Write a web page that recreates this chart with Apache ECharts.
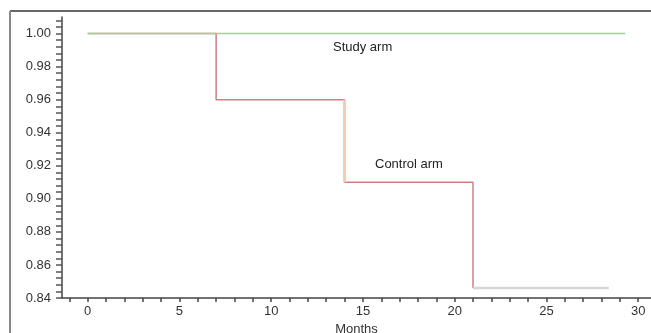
<!DOCTYPE html>
<html>
<head>
<meta charset="utf-8">
<script src="https://cdn.jsdelivr.net/npm/echarts@6/dist/echarts.min.js"></script>
<style>
  html, body {margin: 0; padding: 0; background: #fff;}
  #chart {width: 651px; height: 333px;}
</style>
</head>
<body>
<div id="chart"></div>
<script>
// Kaplan-Meier style curves
const studyTimes = [0, 29.3];
const studySurv = [1.0, 1.0];

const controlTimes = [0, 7, 14, 21];
const controlSurv = [1.0, 0.96, 0.91, 0.846];
const controlEnd = 28.4;

const xLabels = [0, 5, 10, 15, 20, 25, 30];
const yLabels = [0.84, 0.86, 0.88, 0.90, 0.92, 0.94, 0.96, 0.98, 1.00];

const xTicks = [];
for (let i = -1; i <= 30; i++) xTicks.push(i);
const yTicks = [];
for (let i = 0; i <= 42; i++) yTicks.push(+(0.84 + i * 0.004).toFixed(3));

const chart = echarts.init(document.getElementById('chart'));

const studyData = studyTimes.map((t, i) => [t, studySurv[i]]);
const controlData = controlTimes.map((t, i) => [t, controlSurv[i]]);
const last = controlSurv.length - 1;
const tailData = [[controlTimes[last], controlSurv[last]], [controlEnd, controlSurv[last]]];
const dropData = [[controlTimes[2], controlSurv[1]], [controlTimes[2], controlSurv[2]]];

const font = 'Liberation Sans, Arial, sans-serif';

chart.setOption({
  animation: false,
  grid: {left: 62, right: 0, top: 17, bottom: 35, containLabel: false, outerBoundsMode: 'none'},
  xAxis: {
    type: 'value',
    min: -1.4,
    max: 30.7,
    name: 'Months',
    nameLocation: 'middle',
    nameGap: 21,
    nameTextStyle: {color: '#333', fontSize: 13, fontFamily: font},
    axisLine: {show: true, onZero: false, lineStyle: {color: '#444', width: 1.5}},
    axisTick: {show: true, inside: false, length: 4, customValues: xTicks, lineStyle: {color: '#444', width: 1.5}},
    axisLabel: {customValues: xLabels, color: '#333', fontSize: 13, fontFamily: font, margin: 7},
    splitLine: {show: false}
  },
  yAxis: {
    type: 'value',
    min: 0.84,
    max: 1.01,
    axisLine: {show: true, onZero: false, lineStyle: {color: '#444', width: 1.5}},
    axisTick: {show: true, length: 6, customValues: yTicks, lineStyle: {color: '#555', width: 1.5}},
    axisLabel: {
      customValues: yLabels,
      color: '#333', fontSize: 13, fontFamily: font, margin: 11,
      formatter: v => v.toFixed(2)
    },
    splitLine: {show: false}
  },
  series: [
    {
      name: 'Control arm', type: 'line', step: 'end', data: controlData,
      symbol: 'none', lineStyle: {color: '#d07f7f', width: 1.5}, z: 2
    },
    {
      name: 'Control drop', type: 'line', data: dropData,
      symbol: 'none', lineStyle: {color: '#f2cdb4', width: 3}, z: 3
    },
    {
      name: 'Control tail', type: 'line', data: tailData,
      symbol: 'none', lineStyle: {color: '#d6d6d6', width: 2.5}, z: 2
    },
    {
      name: 'Study arm', type: 'line', data: studyData,
      symbol: 'none', lineStyle: {color: '#9ad39a', width: 1.5}, z: 4
    }
  ],
  graphic: [
    {type: 'line', shape: {x1: 10, y1: 11, x2: 651, y2: 11}, style: {stroke: '#333', lineWidth: 1.5}},
    {type: 'line', shape: {x1: 10, y1: 11, x2: 10, y2: 333}, style: {stroke: '#888', lineWidth: 2}},
    {type: 'text', left: 333, top: 41, style: {text: 'Study arm', fill: '#222', font: '13px ' + font}},
    {type: 'text', left: 375, top: 158, style: {text: 'Control arm', fill: '#222', font: '13px ' + font}}
  ]
});
</script>
</body>
</html>
